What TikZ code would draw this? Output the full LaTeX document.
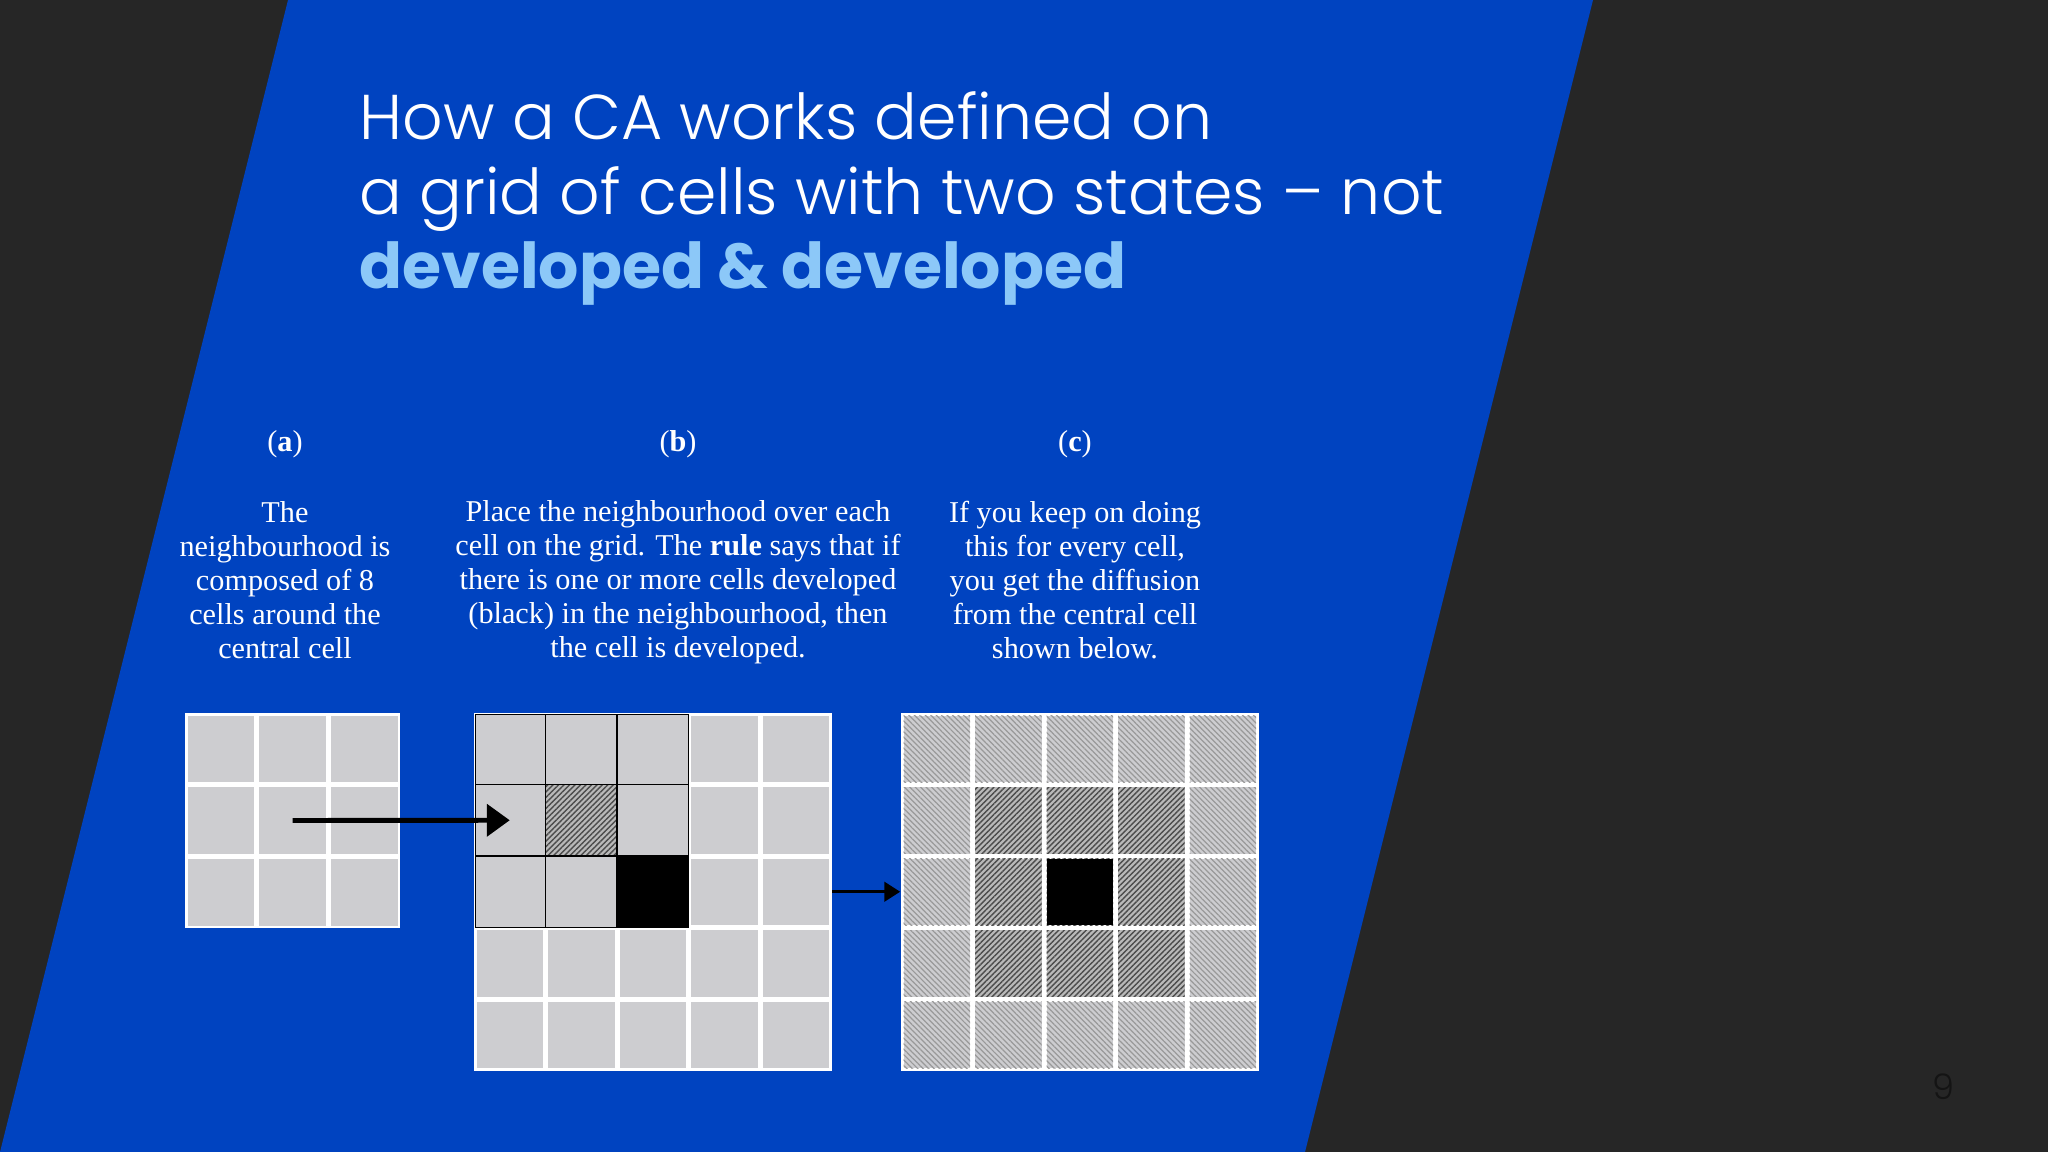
\documentclass[tikz,border=0pt]{standalone}
\usepackage{fontspec}
\setmainfont{Liberation Serif}
\newfontfamily\titlefont{Poppins Light}[BoldFont={Poppins Bold}]
\usetikzlibrary{arrows.meta,patterns.meta}

\definecolor{slidedark}{HTML}{262626}
\definecolor{slideblue}{HTML}{0043C0}
\definecolor{titleblue}{HTML}{8CC8F8}
\definecolor{cellgrey}{HTML}{CDCDD0}
\definecolor{pagegrey}{HTML}{141414}

\tikzset{
    gridframe/.style={fill=white, inner sep=0pt, minimum size=#1},
    title/.style={anchor=base west, text=white, inner sep=0pt, font=\titlefont\fontsize{18}{21}\selectfont},
    desc/.style={text=white, align=center, font=\fontsize{8.6}{9.7}\selectfont},
    lighthatch/.style={fill=cellgrey, postaction={pattern color=black!40, pattern={Lines[angle=-45,distance=1.1pt,line width=0.35pt]}}},
    darkhatch/.style={fill=gray!55, postaction={pattern color=black!70, pattern={Lines[angle=45,distance=1.1pt,line width=0.4pt]}}}
}

\begin{document}
\begin{tikzpicture}[x=0.01cm, y=-0.01cm]
    \useasboundingbox (0,0) rectangle (2048,1152);

    % Background
    \fill[slidedark] (0,0) rectangle (2048,1152);
    \fill[slideblue] (288,0) -- (1593,0) -- (1305,1152) -- (0,1152) -- cycle;

    % Title
    \node[title] (title1) at (359,140) {How a CA works defined on};
    \node[title] (title2) at (359,215) {a grid of cells with two states – not};
    \node[title, text=titleblue] (title3) at (359,289) {\bfseries developed \& developed};

    % Panel labels
    \node[desc] (labA) at (285,444) {(\textbf{a})};
    \node[desc] (labB) at (678,444) {(\textbf{b})};
    \node[desc] (labC) at (1075,444) {(\textbf{c})};

    % Panel texts
    \node[desc] (textA) at (285,580) {The\\neighbourhood is\\composed of 8\\cells around the\\central cell};
    \node[desc] (textB) at (678,582) {Place the neighbourhood over each\\cell on the grid. The \textbf{rule} says that if\\there is one or more cells developed\\(black) in the neighbourhood, then\\the cell is developed.};
    \node[desc] (textC) at (1075,580) {If you keep on doing\\this for every cell,\\you get the diffusion\\from the central cell\\shown below.};

    % Grid (a)
    \node[gridframe=2.15cm] (gridA) at (292.5,820.5) {};
    \foreach \i in {0,1,2}
        \foreach \j in {0,1,2}
            \fill[cellgrey] ({187.5+\i*71.67},{715.5+\j*71.67}) rectangle ++(66.67,66.67);

    % Grid (b)
    \node[gridframe=3.575cm] (gridB) at (652.75,891.75) {};
    \foreach \i in {0,...,4}
        \foreach \j in {0,...,4}
            \fill[cellgrey] ({476.5+\i*71.5},{715.5+\j*71.5}) rectangle ++(66.5,66.5);
    \fill[cellgrey] (475.5,714.5) rectangle (688.5,927.5);
    \path[darkhatch] (545.5,784.5) rectangle (617,856);
    \fill[black] (617,856) rectangle (688.5,927.5);
    \draw[black, line width=0.5pt] (475.5,714.5) rectangle (688.5,927.5);
    \foreach \k in {1,2}{
        \draw[black, line width=0.5pt] ({474+\k*71.5},714.5) -- ({474+\k*71.5},927.5);
        \draw[black, line width=0.5pt] (475.5,{713+\k*71.5}) -- (688.5,{713+\k*71.5});
    }

    % Grid (c)
    \node[gridframe=3.575cm] (gridC) at (1079.75,891.75) {};
    \foreach \i in {0,...,4}
        \foreach \j in {0,...,4}
            \path[lighthatch] ({903.5+\i*71.5},{715.5+\j*71.5}) rectangle ++(66.5,66.5);
    \foreach \i in {1,2,3}
        \foreach \j in {1,2,3}
            \path[darkhatch] ({903.5+\i*71.5},{715.5+\j*71.5}) rectangle ++(66.5,66.5);
    \fill[black] (1046.5,858.5) rectangle ++(66.5,66.5);

    % Arrows
    \coordinate (cellB) at (509.75,820.25);
    \draw[-{Triangle[length=6.5pt,width=9pt]}, line width=1.4pt] (gridA.center) -- (cellB);
    \draw[-{Triangle[length=4.5pt,width=5.5pt]}, line width=0.9pt] (gridB.east) -- (gridC.west);

    % Page number
    \node[text=pagegrey, font=\titlefont\fontsize{10}{12}\selectfont] (pagenum) at (1943,1087) {9};
\end{tikzpicture}
\end{document}
